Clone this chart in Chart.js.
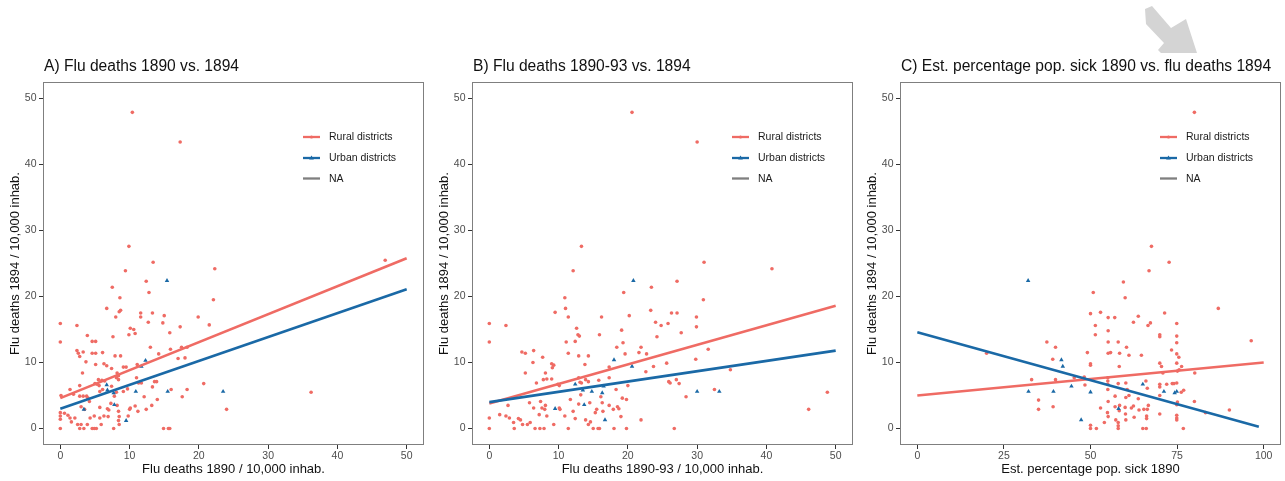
<!DOCTYPE html>
<html><head><meta charset="utf-8">
<script src="https://cdn.jsdelivr.net/npm/chart.js@4.4.1/dist/chart.umd.min.js"></script>
<style>
html,body{margin:0;padding:0;background:#fff;width:1285px;height:481px;overflow:hidden;position:relative}
canvas{position:absolute;top:0}
#arrow{position:absolute;left:0;top:0}
</style></head><body>
<svg id="arrow" width="1285" height="60"><polygon points="1145,9 1152,6 1171,28 1186,19 1197,53 1161,53 1158,50 1164,43 1146,24" fill="#d4d4d4"/></svg>
<canvas id="cA" width="428" height="481" style="left:0px"></canvas>
<canvas id="cB" width="428" height="481" style="left:429px"></canvas>
<canvas id="cC" width="428" height="481" style="left:857px"></canvas>
<script>
// ---------- data ----------
const titles = ["A) Flu deaths 1890 vs. 1894", "B) Flu deaths 1890-93 vs. 1894", "C) Est. percentage pop. sick 1890 vs. flu deaths 1894"];
const xTitles = ["Flu deaths 1890 / 10,000 inhab.", "Flu deaths 1890-93 / 10,000 inhab.", "Est. percentage pop. sick 1890"];
const yTitle = "Flu deaths 1894 / 10,000 inhab.";
const yTicks = [0, 10, 20, 30, 40, 50];
const xTicksAB = [0, 10, 20, 30, 40, 50];
const xTicksC = [0, 25, 50, 75, 100];
const legendLabels = ["Rural districts", "Urban districts", "NA"];

const ruralA = [[10.4,47.9],[17.3,43.4],[46.9,25.5],[36.2,5.5],[24.0,2.9],[9.9,27.6],[13.4,25.2],[22.3,24.2],[9.4,23.9],[12.4,22.3],[7.5,21.4],[12.8,20.6],[22.1,19.5],[8.6,19.8],[6.7,18.2],[8.5,17.7],[8.7,17.9],[11.6,17.5],[13.3,17.5],[8.0,16.9],[11.6,16.9],[15.0,17.1],[19.9,16.9],[12.7,16.1],[14.8,16.0],[21.5,15.7],[17.3,15.4],[0,15.9],[2.4,15.6],[10.1,15.2],[10.6,15.0],[10.8,14.4],[15.8,14.5],[9.9,14.2],[3.9,14.1],[7.6,13.9],[0,13.1],[4.6,13.2],[5.1,13.2],[13.0,12.3],[17.5,12.3],[18.3,12.3],[15.9,12.0],[2.4,11.8],[2.6,11.4],[3.3,11.6],[4.6,11.4],[5.1,11.4],[6.1,11.5],[2.8,10.9],[7.9,11.0],[8.7,11.0],[14.2,11.3],[17.0,10.6],[18.0,10.7],[3.7,10.1],[11.1,9.7],[5.1,9.7],[6.3,9.8],[6.7,9.5],[9.1,9.3],[9.5,9.3],[7.4,9.1],[8.2,8.4],[3.2,8.4],[8.4,8.0],[5.5,7.4],[6.0,7.3],[6.4,7.2],[8.1,7.7],[8.4,7.4],[11.0,7.7],[11.7,6.9],[13.6,7.1],[13.9,7.1],[2.8,6.5],[5.0,6.8],[5.3,6.7],[5.6,6.5],[7.4,6.4],[0.1,5.0],[1.4,5.9],[1.9,5.2],[2.8,4.9],[3.3,4.9],[3.8,4.9],[6.1,5.9],[5.7,5.6],[8.1,5.5],[7.8,4.9],[9.1,5.6],[9.7,6.0],[11.3,6.9],[12.1,4.8],[13.3,6.3],[14.0,4.4],[17.6,4.8],[16.0,5.9],[4.0,4.6],[4.2,4.1],[3.0,3.3],[3.5,2.9],[0,2.4],[0,1.9],[0,1.4],[0.6,2.3],[1.1,2.0],[1.4,1.6],[1.6,1.0],[2.1,1.6],[0,0],[2.8,0],[3.4,0],[4.6,0],[4.9,0],[5.2,0],[7.7,0],[14.9,0],[15.6,0],[15.8,0],[2.5,0.6],[3.0,0.6],[3.9,0.6],[4.3,1.6],[4.9,1.9],[5.7,1.6],[6.3,1.9],[5.7,3.2],[6.8,3.0],[7.0,2.8],[7.3,3.8],[8.2,3.5],[8.4,2.6],[8.5,1.8],[8.4,1.2],[8.5,0.6],[9.8,1.9],[10.0,2.9],[10.1,3.1],[10.8,3.4],[11.2,2.6],[12.4,2.9],[13.2,3.5],[5.9,0.6],[6.9,1.8],[20.7,6.8],[18.3,5.9]];
const urbanA = [[15.4,22.4],[12.3,10.3],[11.7,9.4],[6.7,6.6],[6.8,5.8],[7.7,5.4],[10.9,5.6],[15.5,5.6],[23.5,5.6],[3.4,2.9],[7.8,3.6],[9.5,1.2]];
const fitRuralA = [[0,4.6],[50,25.8]];
const fitUrbanA = [[0,3.0],[50,21.1]];

const ruralB = [[20.6,47.9],[30.0,43.4],[40.8,24.2],[31.0,25.2],[13.3,27.6],[12.1,23.9],[27.1,22.3],[23.4,21.4],[19.4,20.6],[10.9,19.8],[30.9,19.5],[11.0,18.2],[23.3,17.9],[9.5,17.6],[26.3,17.5],[27.1,17.5],[20.2,17.1],[11.4,16.9],[16.2,16.9],[29.9,16.9],[24.0,16.1],[24.8,15.6],[25.8,15.9],[0,15.9],[2.4,15.6],[29.9,15.4],[12.6,15.2],[19.1,14.9],[27.7,14.5],[12.8,14.2],[13.0,14.0],[15.9,14.2],[24.2,13.9],[0,13.1],[11.1,13.1],[12.4,13.2],[19.3,13.0],[18.4,12.3],[21.9,12.3],[31.6,12.0],[4.7,11.6],[5.2,11.4],[6.4,11.8],[11.4,11.4],[21.6,11.5],[19.6,11.3],[22.7,11.3],[12.9,11.0],[14.3,11.0],[7.7,10.8],[29.8,10.5],[6.3,10.0],[9.0,9.8],[9.3,9.6],[9.1,9.2],[13.8,9.7],[25.6,9.9],[17.3,9.3],[23.7,9.4],[34.8,8.9],[5.2,8.4],[8.1,8.4],[22.6,8.6],[7.8,7.4],[8.3,7.5],[9.0,7.5],[6.8,6.9],[9.9,6.7],[10.1,6.5],[12.9,7.7],[13.1,7.0],[13.3,6.9],[13.9,7.4],[14.3,7.1],[15.8,7.3],[17.3,7.7],[20.0,6.5],[27.0,7.4],[27.4,6.8],[25.9,7.1],[26.1,6.9],[32.5,5.9],[48.8,5.5],[46.1,2.9],[28.4,4.8],[18.3,5.9],[11.7,4.4],[12.1,2.6],[12.9,3.7],[13.2,5.1],[14.5,3.9],[16.1,4.8],[16.3,3.9],[16.4,2.6],[15.5,2.9],[15.3,2.4],[17.3,3.5],[17.9,2.9],[18.5,3.3],[18.7,3.0],[19.2,4.6],[19.0,1.8],[19.8,4.4],[21.9,1.3],[1.5,2.1],[0,1.6],[2.4,1.9],[2.9,1.6],[2.7,3.5],[4.2,1.5],[4.5,1.3],[3.5,0.9],[4.8,0.6],[5.5,0.6],[5.9,0.9],[5.8,3.9],[6.4,3.1],[7.2,2.1],[7.4,4.1],[7.6,3.1],[8.0,2.9],[8.1,3.5],[8.3,1.9],[9.3,0.6],[10.1,3.1],[10.2,2.9],[10.9,1.9],[12.4,1.5],[13.9,1.3],[14.3,0.6],[14.6,1.0],[0,0],[3.6,0],[6.6,0],[7.3,0],[7.9,0],[11.4,0],[15.0,0],[15.7,0],[15.9,0],[18.0,0],[19.8,0],[26.7,0]];
const urbanB = [[20.8,22.4],[18.0,10.4],[20.6,9.4],[30.0,5.6],[33.2,5.6],[12.4,6.7],[13.5,5.8],[14.8,5.6],[16.3,5.4],[16.5,6.4],[9.5,3.0],[13.7,3.6],[16.7,1.3]];
const fitRuralB = [[0,3.8],[50,18.6]];
const fitUrbanB = [[0,4.0],[50,11.8]];

const ruralC = [[80.0,47.9],[67.6,27.6],[72.7,25.2],[66.9,23.9],[59.5,22.2],[50.8,20.6],[60.0,19.8],[86.9,18.2],[50.0,17.4],[52.9,17.6],[71.4,17.5],[63.8,17.0],[55.1,16.8],[57.0,16.8],[62.4,16.1],[67.3,16.0],[66.6,15.6],[51.4,15.6],[74.9,15.9],[55.1,14.8],[51.4,14.2],[70.0,14.2],[70.0,13.9],[74.9,14.0],[96.4,13.3],[37.4,13.1],[55.1,13.1],[58.0,13.1],[74.9,13.0],[39.9,12.3],[60.4,12.3],[73.4,11.9],[49.1,11.5],[55.8,11.5],[55.1,11.4],[58.4,11.4],[20.0,11.4],[74.9,11.3],[75.5,10.8],[61.1,11.1],[64.7,11.1],[39.1,10.5],[50.0,9.8],[50.0,9.6],[70.0,9.9],[70.5,9.4],[58.3,9.4],[74.9,9.9],[76.3,9.4],[75.1,8.7],[75.6,8.9],[80.1,8.4],[70.9,8.4],[33.0,7.4],[39.9,7.4],[45.3,7.7],[48.2,7.8],[55.0,7.7],[55.0,7.2],[55.0,6.7],[58.0,6.8],[60.2,6.9],[66.0,7.2],[73.6,6.8],[74.9,6.9],[74.1,6.8],[70.0,6.7],[70.0,6.3],[48.4,6.6],[55.0,5.9],[60.6,5.9],[76.9,5.8],[76.2,5.5],[66.4,6.1],[70.0,5.0],[61.1,5.0],[60.2,4.7],[63.8,4.5],[57.1,4.9],[55.1,4.1],[80.0,4.1],[35.0,4.3],[75.1,4.0],[74.9,3.6],[52.9,3.1],[39.2,3.3],[57.1,3.3],[58.4,3.5],[62.4,3.4],[61.8,3.1],[66.7,3.5],[58.3,2.7],[66.4,2.9],[65.4,2.9],[35.0,2.9],[90.1,2.8],[83.2,2.4],[70.0,2.2],[60.1,2.2],[54.9,2.4],[62.6,1.7],[66.2,1.9],[66.2,1.5],[74.9,2.0],[74.9,1.6],[55.1,1.8],[54.0,0.9],[57.3,1.3],[58.0,0.9],[60.2,1.3],[50.0,0.5],[50.0,0],[51.7,0],[58.0,0.4],[58.0,0],[65.1,0],[66.1,0],[76.8,0],[74.9,1.3],[60.0,3.2],[64.0,2.8],[72.0,6.7]];
const urbanC = [[32.0,22.4],[41.6,10.4],[42.0,9.4],[65.1,6.7],[44.5,6.4],[32.1,5.6],[39.3,5.6],[50.0,5.5],[71.2,5.6],[74.3,5.4],[74.9,5.6],[58.1,3.0],[47.3,1.3]];
const fitRuralC = [[0,5.0],[100,10.0]];
const fitUrbanC = [[0,14.6],[98.6,0.25]];

// ---------- styling ----------
const FONT = '"Liberation Sans", Arial, Helvetica, sans-serif';
const RURAL = '#ef6b64';
const URBAN = '#1a69a6';
const NACOL = '#7f7f7f';
const legendColors = [RURAL, URBAN, NACOL];
Chart.defaults.font.family = FONT;

const toPts = arr => arr.map(p => ({x: p[0], y: p[1]}));

const deco = {
  id: 'deco',
  afterDraw(chart, args, opts) {
    const {ctx, chartArea: a} = chart;
    ctx.save();
    ctx.strokeStyle = '#7f7f7f'; ctx.lineWidth = 1;
    ctx.strokeRect(Math.round(a.left) + 0.5, Math.round(a.top) + 0.5, Math.round(a.right - a.left) - 1, Math.round(a.bottom - a.top) - 1);
    ctx.fillStyle = '#111';
    ctx.font = '15.6px ' + FONT;
    ctx.textBaseline = 'middle'; ctx.textAlign = 'left';
    ctx.fillText(opts.title, a.left + 1, a.top - 15);
    const ys = [55, 76, 96.5];
    ctx.font = '10.5px ' + FONT;
    legendLabels.forEach((t, i) => {
      const y = a.top + ys[i];
      const x0 = a.left + 260, x1 = a.left + 277;
      ctx.strokeStyle = legendColors[i]; ctx.lineWidth = 2.3;
      ctx.beginPath(); ctx.moveTo(x0, y); ctx.lineTo(x1, y); ctx.stroke();
      ctx.fillStyle = legendColors[i];
      if (i === 0) { ctx.beginPath(); ctx.arc((x0 + x1) / 2, y, 1.6, 0, Math.PI * 2); ctx.fill(); }
      if (i === 1) { const cx = (x0 + x1) / 2; ctx.beginPath(); ctx.moveTo(cx, y - 2.6); ctx.lineTo(cx + 2.4, y + 1.4); ctx.lineTo(cx - 2.4, y + 1.4); ctx.closePath(); ctx.fill(); }
      ctx.fillStyle = '#1a1a1a';
      ctx.fillText(t, a.left + 286, y + 0.5);
    });
    ctx.restore();
  }
};

function makeChart(id, idx, xMin, xMax, xTicks, rural, urban, fitR, fitU) {
  const tickFont = {size: 10.5, family: FONT};
  return new Chart(document.getElementById(id), {
    type: 'scatter',
    data: {
      datasets: [
        {type: 'line', data: toPts(fitU), borderColor: URBAN, borderWidth: 2.6, pointRadius: 0, fill: false, tension: 0},
        {type: 'line', data: toPts(fitR), borderColor: RURAL, borderWidth: 2.6, pointRadius: 0, fill: false, tension: 0},
        {data: toPts(urban), pointStyle: 'triangle', pointRadius: 2.6, backgroundColor: URBAN, borderColor: URBAN, borderWidth: 0},
        {data: toPts(rural), pointStyle: 'circle', pointRadius: 1.8, backgroundColor: RURAL, borderColor: RURAL, borderWidth: 0}
      ]
    },
    options: {
      responsive: false, animation: false, devicePixelRatio: 1,
      layout: {padding: {top: 82, right: 3, left: 0, bottom: 0}},
      plugins: {legend: {display: false}, tooltip: {enabled: false}, deco: {title: titles[idx]}},
      scales: {
        x: {
          type: 'linear', min: xMin, max: xMax,
          afterBuildTicks: s => { s.ticks = xTicks.map(v => ({value: v})); },
          afterFit: s => { s.height = 36; },
          grid: {display: true, drawOnChartArea: false, drawTicks: true, tickLength: 4, tickColor: '#333', tickWidth: 1},
          border: {display: false},
          ticks: {font: tickFont, color: '#4d4d4d', padding: 1, maxRotation: 0, autoSkip: false},
          title: {display: true, text: xTitles[idx], font: {size: 13, family: FONT}, color: '#111', padding: {top: 0, bottom: 4}}
        },
        y: {
          type: 'linear', min: -2.5, max: 52.5,
          afterBuildTicks: s => { s.ticks = yTicks.map(v => ({value: v})); },
          afterFit: s => { s.width = 43; },
          grid: {display: true, drawOnChartArea: false, drawTicks: true, tickLength: 4, tickColor: '#333', tickWidth: 1},
          border: {display: false},
          ticks: {font: tickFont, color: '#4d4d4d', padding: 2.5, autoSkip: false},
          title: {display: true, text: yTitle, font: {size: 13, family: FONT}, color: '#111', padding: {top: 8, bottom: 0}}
        }
      }
    },
    plugins: [deco]
  });
}

makeChart('cA', 0, -2.5, 52.5, xTicksAB, ruralA, urbanA, fitRuralA, fitUrbanA);
makeChart('cB', 1, -2.5, 52.5, xTicksAB, ruralB, urbanB, fitRuralB, fitUrbanB);
makeChart('cC', 2, -5, 105, xTicksC, ruralC, urbanC, fitRuralC, fitUrbanC);
</script>
</body></html>
